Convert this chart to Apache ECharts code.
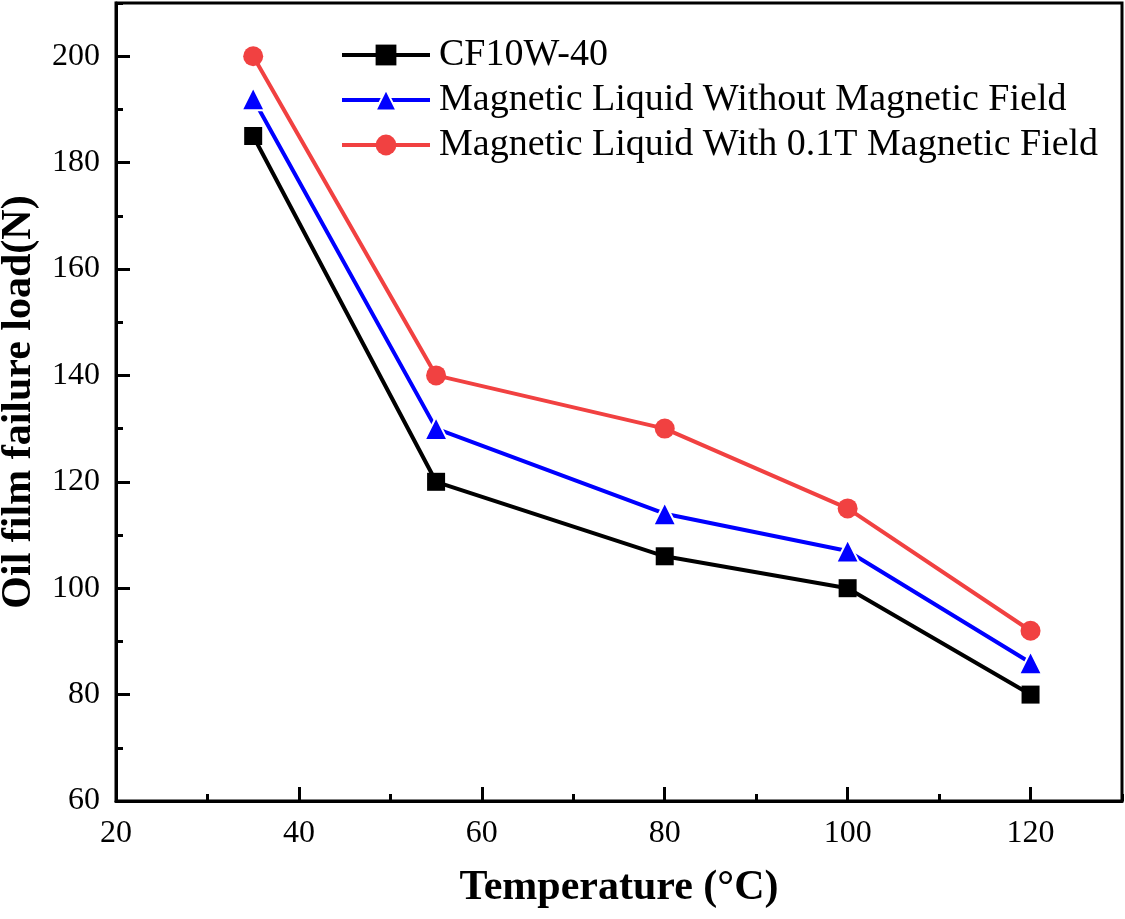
<!DOCTYPE html>
<html>
<head>
<meta charset="utf-8">
<script src="https://cdn.jsdelivr.net/npm/echarts@6/dist/echarts.min.js"></script>
<style>html,body{margin:0;padding:0;background:#fff;}#c{width:1125px;height:919px;}</style>
</head>
<body>
<div id="c"></div>
<script>
const temperatures = [35, 55, 80, 100, 120];
const cf10w40 = [185, 120, 106, 100, 80];
const withoutField = [192, 130, 114, 107, 86];
const withField = [200, 140, 130, 115, 92];
const seriesNames = ['CF10W-40', 'Magnetic Liquid Without Magnetic Field', 'Magnetic Liquid With 0.1T Magnetic Field'];

const FONT = 'Liberation Serif';
const pairs = arr => temperatures.map((t, i) => [t, arr[i]]);

const chart = echarts.init(document.getElementById('c'));
chart.setOption({
  animation: false,
  backgroundColor: '#fff',
  grid: { left: 116, right: 3, top: 3, bottom: 118, show: true, borderColor: '#000', borderWidth: 3,
          containLabel: false, outerBoundsMode: 'none' },
  legend: {
    orient: 'vertical', left: 340, top: 36, padding: 0, itemWidth: 88, itemHeight: 26, itemGap: 7,
    textStyle: { fontFamily: FONT, fontSize: 38, color: '#000', lineHeight: 38, padding: [0, 0, 0, 4] },
    lineStyle: { width: 4 },
    data: seriesNames
  },
  xAxis: [{
    type: 'value', min: 20, max: 130, interval: 20,
    name: 'Temperature (°C)', nameLocation: 'middle', nameGap: 66,
    nameTextStyle: { fontFamily: FONT, fontSize: 42, fontWeight: 'bold', color: '#000' },
    axisLine: { show: true, lineStyle: { color: '#000', width: 3 } },
    axisTick: { show: true, inside: true, length: 14, lineStyle: { color: '#000', width: 3 } },
    axisLabel: { fontFamily: FONT, fontSize: 32, color: '#000', margin: 17, showMaxLabel: false },
    splitLine: { show: false }
  }, {
    type: 'value', min: 20, max: 130, interval: 10, position: 'bottom',
    axisLine: { show: false },
    axisTick: { show: true, inside: true, length: 7, lineStyle: { color: '#000', width: 3 } },
    axisLabel: { show: false }, splitLine: { show: false }
  }],
  yAxis: [{
    type: 'value', min: 60, max: 210, interval: 20,
    name: 'Oil film failure load(N)', nameLocation: 'middle', nameGap: 76,
    nameTextStyle: { fontFamily: FONT, fontSize: 42, fontWeight: 'bold', color: '#000' },
    axisLine: { show: true, lineStyle: { color: '#000', width: 3 } },
    axisTick: { show: true, inside: true, length: 14, lineStyle: { color: '#000', width: 3 } },
    axisLabel: { fontFamily: FONT, fontSize: 32, color: '#000', margin: 16, showMaxLabel: false },
    splitLine: { show: false }
  }, {
    type: 'value', min: 60, max: 210, interval: 10, position: 'left',
    axisLine: { show: false },
    axisTick: { show: true, inside: true, length: 7, lineStyle: { color: '#000', width: 3 } },
    axisLabel: { show: false }, splitLine: { show: false }
  }],
  series: [
    {
      name: seriesNames[0], type: 'line', xAxisIndex: 0, yAxisIndex: 0,
      data: pairs(cf10w40), symbol: 'rect', symbolSize: 18,
      lineStyle: { color: '#000', width: 4 }, itemStyle: { color: '#000' }
    },
    {
      name: seriesNames[1], type: 'line', xAxisIndex: 0, yAxisIndex: 0,
      data: pairs(withoutField), symbol: 'triangle', symbolSize: 23,
      lineStyle: { color: '#0000ff', width: 4 },
      itemStyle: { color: '#0000ff', borderColor: '#fff', borderWidth: 2 }
    },
    {
      name: seriesNames[2], type: 'line', xAxisIndex: 0, yAxisIndex: 0,
      data: pairs(withField), symbol: 'circle', symbolSize: 20,
      lineStyle: { color: '#f14141', width: 4 }, itemStyle: { color: '#f14141' }
    }
  ]
});
</script>
</body>
</html>
